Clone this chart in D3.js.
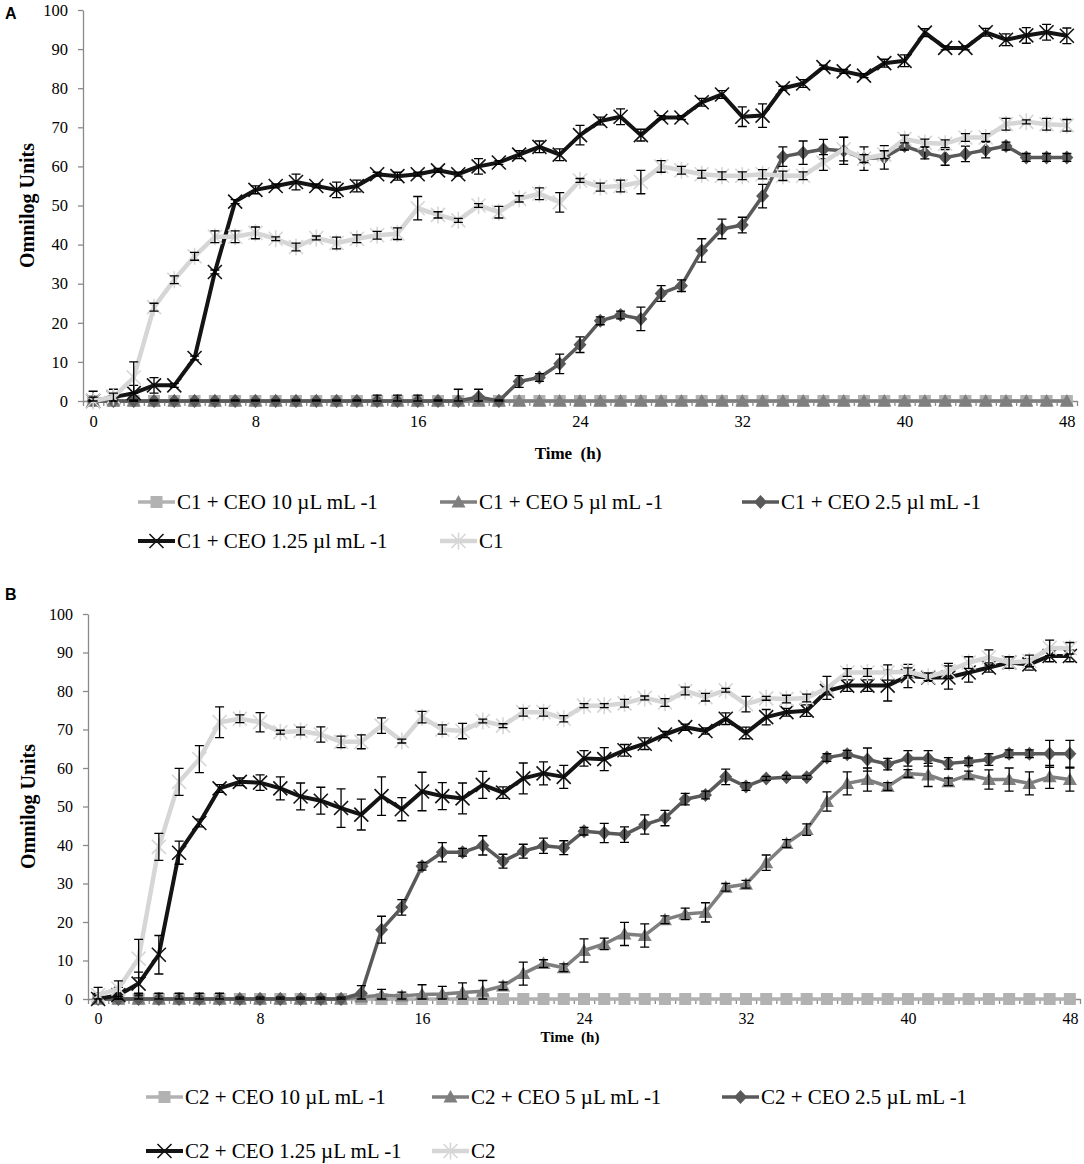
<!DOCTYPE html>
<html>
<head>
<meta charset="utf-8">
<script src="https://cdn.jsdelivr.net/npm/d3@7"></script>
<style>
  html, body { margin: 0; padding: 0; background: #fff; }
  svg { display: block; }
</style>
</head>
<body>
<svg id="chart" width="1084" height="1164"></svg>
<script>
// ---------- DATA ----------
const hours = [0,1,2,3,4,5,6,7,8,9,10,11,12,13,14,15,16,17,18,19,20,21,22,23,24,25,26,27,28,29,30,31,32,33,34,35,36,37,38,39,40,41,42,43,44,45,46,47,48];
const xTickLabels = [0, 8, 16, 24, 32, 40, 48];
const yTickLabels = [0, 10, 20, 30, 40, 50, 60, 70, 80, 90, 100];

// Panel A
const legendA = ["C1 + CEO 10 µL mL -1", "C1 + CEO 5 µl mL -1", "C1 + CEO 2.5 µl mL -1", "C1 + CEO 1.25 µl mL -1", "C1"];
const a10  = [0,0,0,0,0,0,0,0,0,0, 0,0,0,0,0,0,0,0,0,0, 0,0,0,0,0,0,0,0,0,0, 0,0,0,0,0,0,0,0,0,0, 0,0,0,0,0,0,0,0,0];
const a5   = [0,0,0,0,0,0,0,0,0,0, 0,0,0,0,0,0,0,0,0,0, 0,0,0,0,0,0,0,0,0,0, 0,0,0,0,0,0,0,0,0,0, 0,0,0,0,0,0,0,0,0];
const a25  = [0,0,0,0,0,0,0,0,0,0, 0,0,0,0,0,0,0,0,0,1, 0,5,6,9.5,14.4,20.5,22,21,27.5,29.5, 38.5,44,45,52.4,62.5,63.5,64.4,64,62,62.3, 65.2,63.4,62.3,63.2,64.2,65.2,62.3,62.3,62.3];
const a125 = [0,1,2,4,4,11,33,51,54,55, 56,55,54,55,58,57.5,58,59,58,60, 61,63,65,63,68,71.6,72.7,68,72.5,72.5, 76.4,78.4,72.7,73,80,81.2,85.4,84.3,83.2,86.4, 87,94.2,90.3,90.3,94.3,92.4,93.5,94.3,93.4];
const aC1  = [0,1,6,24,31,37,42,42,43,41.5, 39.4,41.7,40.4,41.5,42.4,42.8,49.3,47.6,46.2,50, 48.3,51.7,53,50.8,56.4,54.7,55,56,60,59, 58,57.6,57.6,58,57.6,57.6,61,64.4,62,63, 67,66,65.8,67.4,67.4,70.8,71.4,70.8,70.5];
const a10Err  = [0,0,0,0,0,0,0,0,0,0, 0,0,0,0,0,0,0,0,0,0, 0,0,0,0,0,0,0,0,0,0, 0,0,0,0,0,0,0,0,0,0, 0,0,0,0,0,0,0,0,0];
const a5Err   = [0,0,0,0,0,0,0,0,0,0, 0,0,0,0,0,0,0,0,0,0, 0,0,0,0,0,0,0,0,0,0, 0,0,0,0,0,0,0,0,0,0, 0,0,0,0,0,0,0,0,0];
const a25Err  = [0.3,0.3,0.3,0.3,0.3,0.3,0.3,0.3,0.3,0.3, 0.3,0.3,0.3,0.3,1.5,1.5,1.5,0.3,3,2, 0.3,1.5,1,2.5,2,1,1,3,2,1.5, 3,2.5,2,3,2.5,3,2.5,3.5,3,3, 1,1.5,2,2,2,1,1,1,1];
const a125Err = [2.5,2,2,2,0.5,0.5,0.5,0.5,1,0.5, 2,0.5,2,1.5,0.5,1,0.5,0.5,0.5,2, 0.5,1,1.5,1.5,2.5,1,2,1.5,0.5,0.5, 1,1,2.5,3,0.5,1,0.5,0.5,0.5,1, 1.5,1,0.5,0.5,1,1.5,2,2,2];
const aC1Err  = [1,1,4,1,1,1,1.5,1.5,1.5,0.5, 1,0.5,1.5,1,1,1.5,3,0.8,0.5,0.5, 1.5,0.8,1.5,2.5,0.5,1,1.5,3,1.5,1, 1,1,1,1.2,1.2,1,2,3,1,1, 1,1,1,1,1,1.5,0.5,1.5,1.5];

// Panel B
const legendB = ["C2 + CEO 10 µL mL -1", "C2 + CEO 5 µL mL -1", "C2 + CEO 2.5 µL mL -1", "C2 + CEO 1.25 µL mL -1", "C2"];
const b10  = [0,0,0,0,0,0,0,0,0,0, 0,0,0,0,0,0,0,0,0,0, 0,0,0,0,0,0,0,0,0,0, 0,0,0,0,0,0,0,0,0,0, 0,0,0,0,0,0,0,0,0];
const b5   = [0,0,0,0,0,0,0,0,0,0, 0,0,0,0.5,1,0.8,1.2,1.3,1.7,2, 3.4,6.6,9.2,8.1,12.6,14.3,16.9,16.5,20.6,22.1, 22.5,29,29.8,35.4,40.4,44,51.3,56,57,55.2, 58.6,58.2,56.4,58.2,57,57,56,57.7,57];
const b25  = [0,0,0,0,0,0,0,0,0,0, 0,0,0,1.5,18,23.8,34.5,38.1,38.1,39.9, 35.8,38.4,39.8,39.3,43.6,43.1,42.7,45.3,47,51.9, 53,57.7,55.2,57.3,57.6,57.6,62.7,63.6,62.2,61, 62.5,62.5,61.2,61.6,62.2,63.7,63.7,63.7,63.7];
const b125 = [0,1,4,11.5,38,45.7,54.7,56.4,56.2,54.7, 52.6,51.5,49.6,47.9,52.7,49.3,53.9,52.7,52.1,55.6, 53.6,57.3,58.6,57.7,62.5,62.3,64.6,66.3,68.7,70.6, 69.6,72.8,69.1,73.2,74.5,74.9,80,81.4,81.4,81.4, 83.9,83.5,83.5,84.8,86.1,87.4,86.9,89.1,89.1];
const bC2  = [1,2.7,10.5,39.5,56.4,62.3,71.9,72.8,71.9,69.3, 69.6,68.7,66.8,66.8,71,67,73.2,70,69.6,72.2, 71,74.5,74.5,72.8,76.2,76.2,76.8,78.2,77,80, 78.4,80.2,76.6,78.1,77.9,78.2,80.8,84.8,84.8,84.8, 85,83.7,85.2,87.4,88.7,87.4,87.8,91.2,91.1];
const b10Err  = [0,0,0,0,0,0,0,0,0,0, 0,0,0,0,0,0,0,0,0,0, 0,0,0,0,0,0,0,0,0,0, 0,0,0,0,0,0,0,0,0,0, 0,0,0,0,0,0,0,0,0];
const b5Err   = [0,0,0,0,0,0,0,0,0,0, 0,0,0,0,1.5,1,2.5,2,2.5,2.8, 1,3,1,1,3,1.5,3,3,1,1.5, 2.5,1,1,2,1,1.5,2.5,3,3,1, 1,3,1,1,2.5,3,3,3,3];
const b25Err  = [1.5,1.5,1.5,1.5,1.5,1.5,1.5,0.5,0.5,0.5, 0.5,0.5,0.5,2,3.5,2,1,2.5,1,2.5, 1.8,1.8,2,1.8,1,2.5,2,2.5,2,1.5, 1,2,1,0.5,0.5,0.5,1,1,3,1.5, 2,2,1.5,1,1.5,1,1,3.5,3.5];
const b125Err = [1,2,3,5,3,1,1,1,2,3, 3.5,3.5,5,4,5,3,5,3.5,4,3.5, 1.5,4,3,3,2,3,1.5,1.5,0.8,0.8, 0.8,1.5,1.5,2,1,1.5,1,1.5,1.5,4, 3,1,3,2.5,1.2,1.5,1.5,1.5,1.5];
const bC2Err  = [2,2,5,3.5,3.5,3.5,4,1,2.5,0.5, 1,2,1.5,1.8,2,0.5,1.5,1.2,2,0.5, 0.5,1,1,0.8,0.5,0.5,1,0.5,1,1, 1,0.5,2,0.5,1,1,3,1,1,2, 1,1,2,1.5,2,1.5,1.5,2,1.5];

// ---------- STYLE ----------
const styles = [
  { marker: "square",   color: "#b2b2b2", width: 3.5 },
  { marker: "triangle", color: "#7f7f7f", width: 3.5 },
  { marker: "diamond",  color: "#595959", width: 3.5 },
  { marker: "x",        color: "#141414", width: 4 },
  { marker: "asterisk", color: "#d6d6d6", width: 4.5 }
];
const SERIF = "'Liberation Serif', 'Times New Roman', serif";
const SANS = "'Liberation Sans', Arial, sans-serif";
const AXIS_COLOR = "#8a8a8a";

const svg = d3.select("#chart");

function drawMarker(g, type, color, cx, cy) {
  if (type === "square") {
    g.append("rect").attr("x", cx - 6).attr("y", cy - 6).attr("width", 12).attr("height", 12).attr("fill", color);
  } else if (type === "triangle") {
    g.append("path").attr("d", `M${cx},${cy-7}L${cx+7},${cy+5.5}L${cx-7},${cy+5.5}Z`).attr("fill", color);
  } else if (type === "diamond") {
    g.append("path").attr("d", `M${cx},${cy-7}L${cx+6.5},${cy}L${cx},${cy+7}L${cx-6.5},${cy}Z`).attr("fill", color);
  } else if (type === "x") {
    g.append("path").attr("d", `M${cx-7},${cy-7}L${cx+7},${cy+7}M${cx-7},${cy+7}L${cx+7},${cy-7}`)
      .attr("stroke", color).attr("stroke-width", 1.6).attr("fill", "none");
  } else if (type === "asterisk") {
    g.append("path").attr("d", `M${cx-7},${cy-7}L${cx+7},${cy+7}M${cx-7},${cy+7}L${cx+7},${cy-7}M${cx},${cy-8.5}L${cx},${cy+8.5}`)
      .attr("stroke", color).attr("stroke-width", 1.6).attr("fill", "none");
  }
}

function drawPanel(cfg) {
  const g = svg.append("g");
  const x = d3.scaleLinear().domain([-0.5, 48.5]).range([cfg.x0, cfg.x1]);
  const y = d3.scaleLinear().domain([0, 100]).range([cfg.yb, cfg.yt]);

  // Y axis
  const yAx = g.append("g").attr("transform", `translate(${cfg.x0},0)`)
    .call(d3.axisLeft(y).tickValues(yTickLabels).tickSize(5).tickSizeOuter(0).tickPadding(cfg.yPad));
  yAx.selectAll("path,line").attr("stroke", AXIS_COLOR).attr("stroke-width", 1.3);
  yAx.selectAll("text").attr("font-family", SERIF).attr("font-size", cfg.tickFont).attr("fill", "#000");

  // X axis: boundary ticks
  const bounds = d3.range(-0.5, 49, 1);
  const xAx = g.append("g").attr("transform", `translate(0,${cfg.yb})`)
    .call(d3.axisBottom(x).tickValues(bounds).tickSize(5).tickSizeOuter(0).tickFormat(""));
  xAx.selectAll("path,line").attr("stroke", AXIS_COLOR).attr("stroke-width", 1.3);
  // X axis labels
  const xLab = g.append("g").attr("transform", `translate(0,${cfg.yb})`)
    .call(d3.axisBottom(x).tickValues(xTickLabels).tickSize(0).tickPadding(cfg.xPad));
  xLab.select(".domain").remove();
  xLab.selectAll("text").attr("font-family", SERIF).attr("font-size", cfg.tickFont).attr("fill", "#000");

  // Series
  const line = d3.line().x((d, i) => x(hours[i])).y(d => y(d));
  cfg.series.forEach((vals, si) => {
    const st = styles[si];
    const errs = cfg.errors[si];
    const sg = g.append("g");
    sg.append("path").datum(vals).attr("d", line).attr("fill", "none")
      .attr("stroke", st.color).attr("stroke-width", st.width).attr("stroke-linejoin", "round");
    vals.forEach((v, i) => drawMarker(sg, st.marker, st.color, x(hours[i]), y(v)));
    vals.forEach((v, i) => {
      const e = errs[i];
      if (!e) return;
      const cx = x(hours[i]);
      const y1 = y(v + e), y2 = y(Math.max(0, v - e));
      sg.append("path").attr("d", `M${cx},${y1}L${cx},${y2}M${cx-4.5},${y1}L${cx+4.5},${y1}M${cx-4.5},${y2}L${cx+4.5},${y2}`)
        .attr("stroke", "#000").attr("stroke-width", 1.3).attr("fill", "none");
    });
  });

  // Axis titles
  g.append("text").attr("transform", `translate(${cfg.yTitleX},${(cfg.yb + cfg.yt) / 2}) rotate(-90)`)
    .attr("text-anchor", "middle").attr("dominant-baseline", "central")
    .attr("font-family", SERIF).attr("font-weight", "bold").attr("font-size", cfg.yTitleFont)
    .text("Omnilog Units");
  g.append("text").attr("x", cfg.xTitleX).attr("y", cfg.xTitleY)
    .attr("text-anchor", "middle").attr("dominant-baseline", "central")
    .attr("font-family", SERIF).attr("font-weight", "bold").attr("font-size", cfg.xTitleFont)
    .attr("xml:space", "preserve")
    .text("Time  (h)");

  // Panel letter
  g.append("text").attr("x", 5).attr("y", cfg.letterY).attr("dominant-baseline", "central")
    .attr("font-family", SANS).attr("font-weight", "bold").attr("font-size", 16).text(cfg.letter);

  // Legend
  cfg.legend.forEach((name, i) => {
    const pos = cfg.legendPos[i];
    const st = styles[i];
    const lg = g.append("g");
    lg.append("line").attr("x1", pos[0]).attr("x2", pos[0] + 37).attr("y1", pos[1]).attr("y2", pos[1])
      .attr("stroke", st.color).attr("stroke-width", st.width);
    drawMarker(lg, st.marker, st.color, pos[0] + 18.5, pos[1]);
    lg.append("text").attr("x", pos[0] + 39).attr("y", pos[1]).attr("dominant-baseline", "central")
      .attr("font-family", SERIF).attr("font-size", cfg.legendFont).attr("fill", "#000").text(name);
  });
}

drawPanel({
  letter: "A", letterY: 13,
  x0: 83, x1: 1077, yb: 401, yt: 10,
  yPad: 10, xPad: 14, tickFont: 16.5,
  series: [a10, a5, a25, a125, aC1],
  errors: [a10Err, a5Err, a25Err, a125Err, aC1Err],
  yTitleX: 27, yTitleFont: 20,
  xTitleX: 568, xTitleY: 453, xTitleFont: 17,
  legend: legendA, legendFont: 21,
  legendPos: [[138, 502], [440, 502], [742, 502], [138, 541], [440, 541]]
});

drawPanel({
  letter: "B", letterY: 594,
  x0: 88, x1: 1080, yb: 999, yt: 614,
  yPad: 10, xPad: 14, tickFont: 16,
  series: [b10, b5, b25, b125, bC2],
  errors: [b10Err, b5Err, b25Err, b125Err, bC2Err],
  yTitleX: 28, yTitleFont: 20,
  xTitleX: 570, xTitleY: 1037, xTitleFont: 15,
  legend: legendB, legendFont: 21,
  legendPos: [[146, 1097], [432, 1097], [722, 1097], [146, 1151], [432, 1151]]
});
</script>
</body>
</html>
